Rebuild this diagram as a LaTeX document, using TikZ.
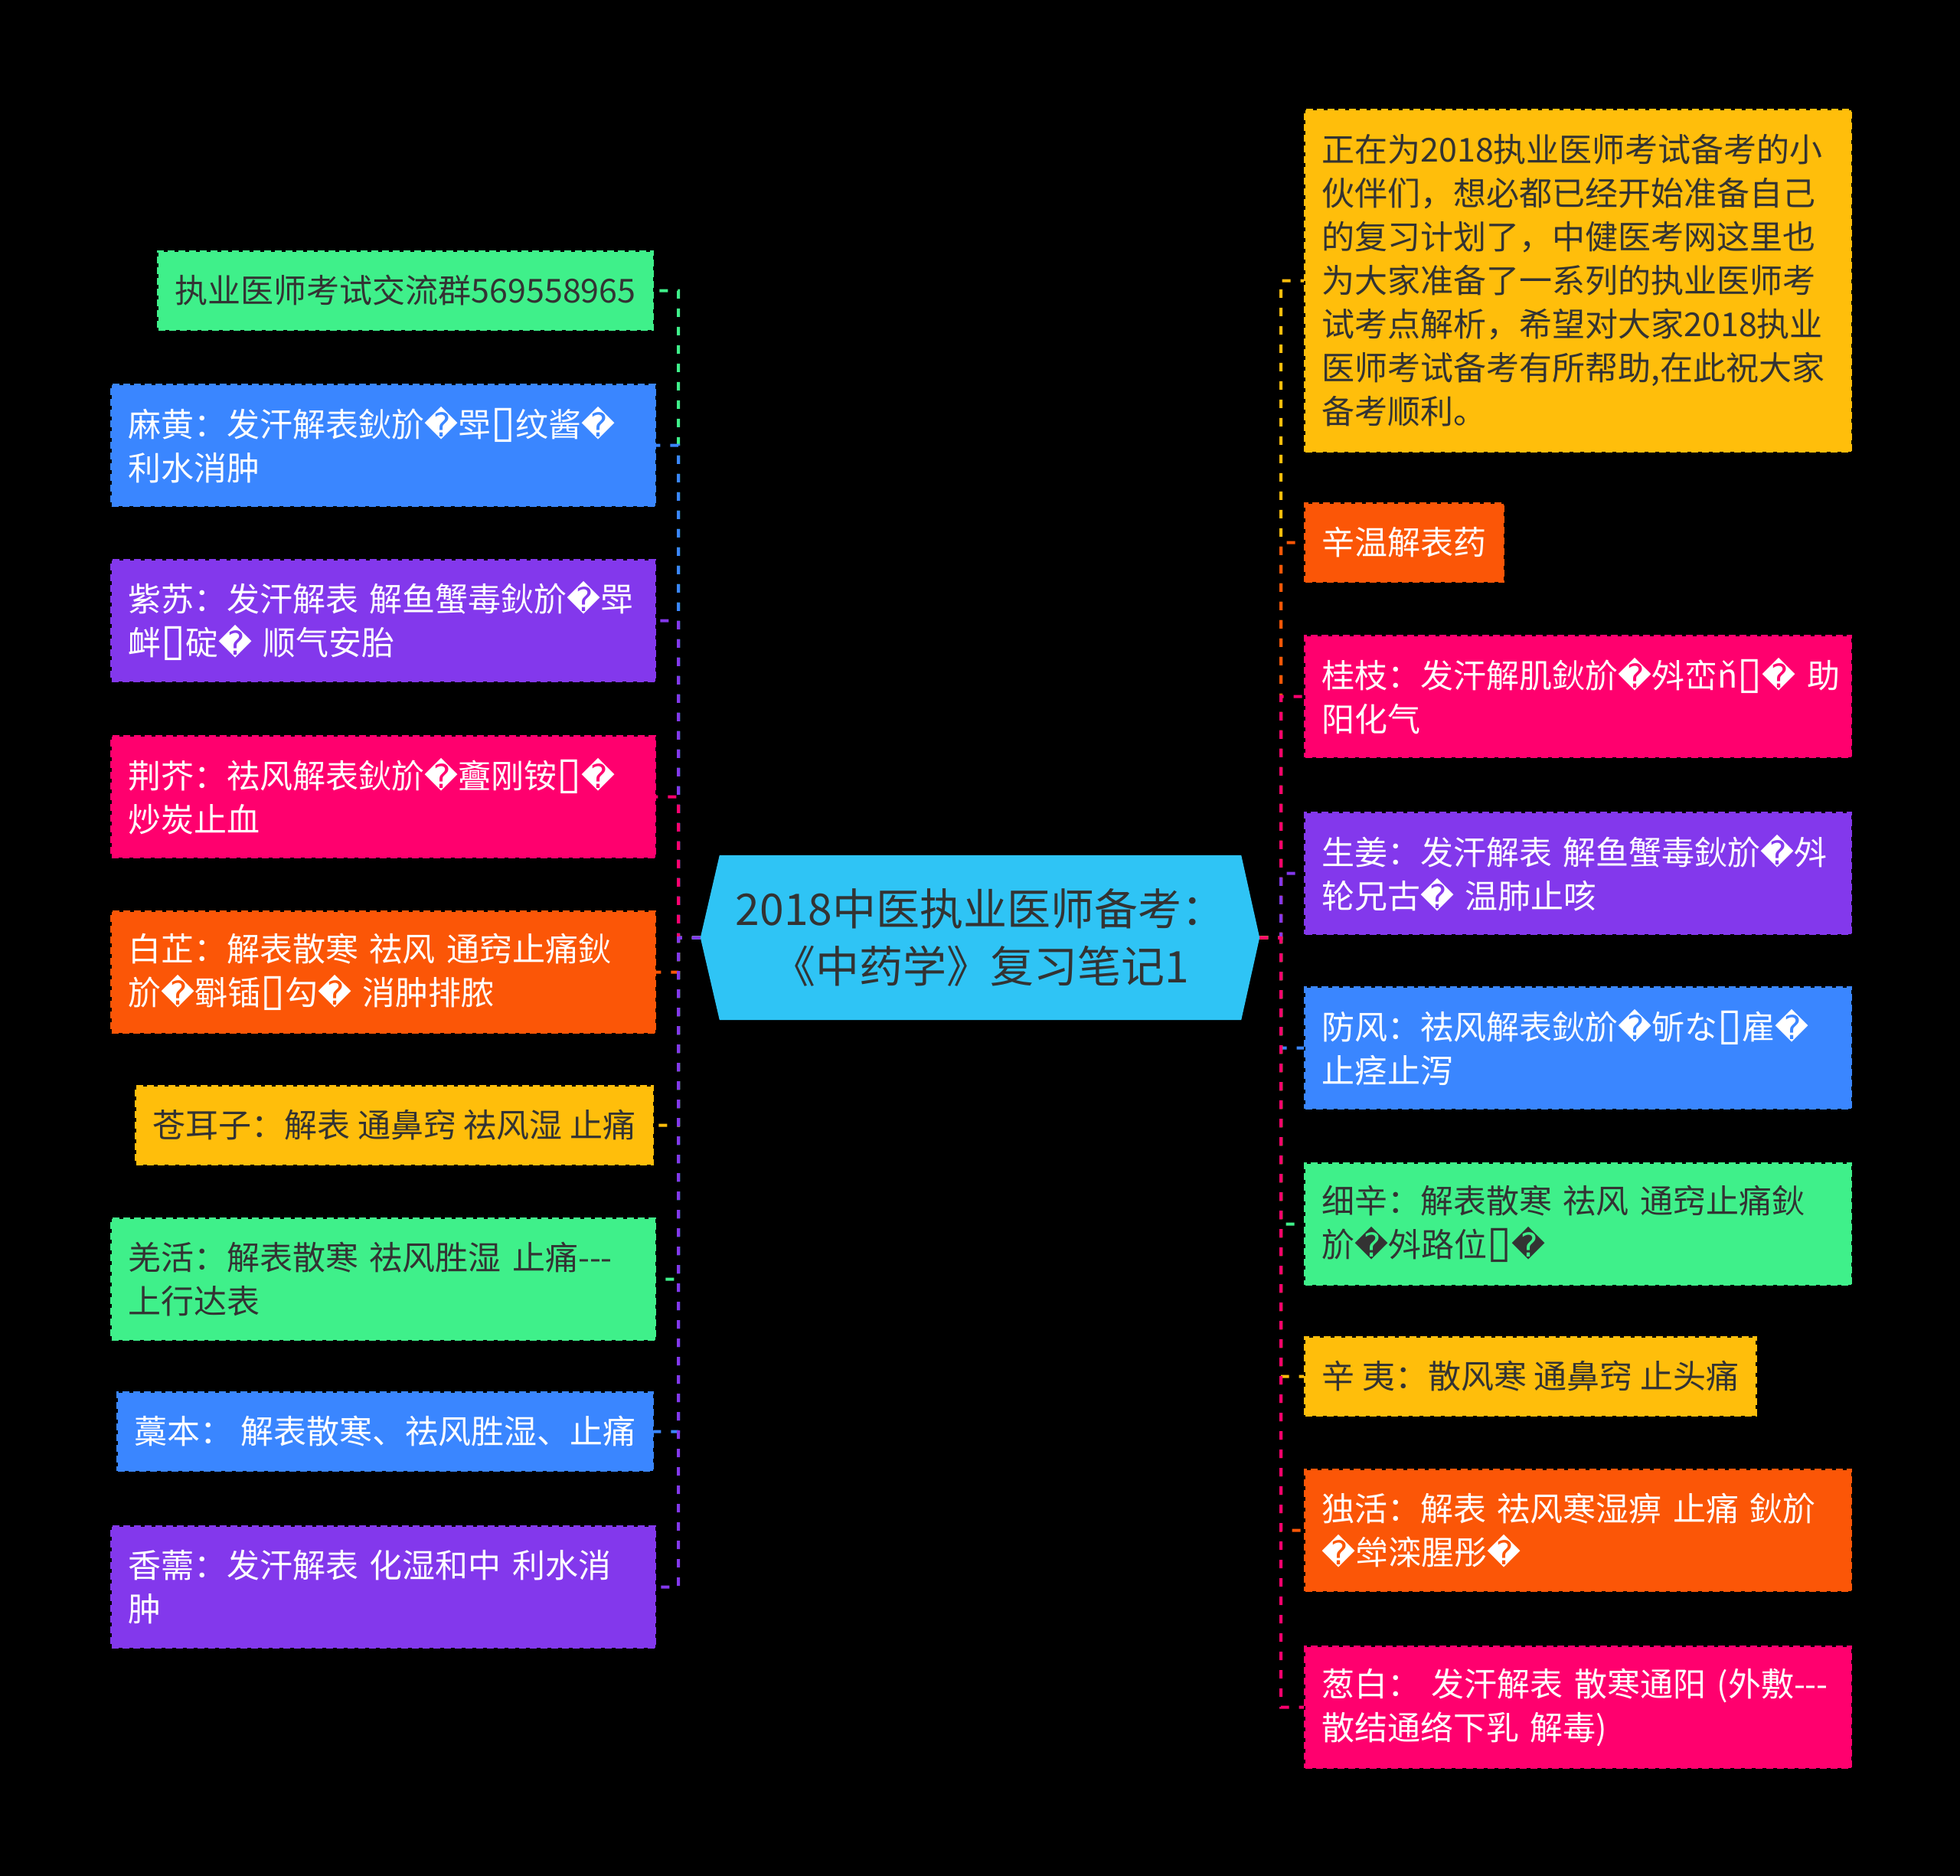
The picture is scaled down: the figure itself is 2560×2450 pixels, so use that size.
\documentclass[tikz,border=0pt]{standalone}
\usepackage{fontspec}
\setmainfont{Noto Sans CJK SC}
\newfontfamily\dejavu{DejaVu Sans}
\usetikzlibrary{backgrounds}
\definecolor{cgreen}{HTML}{3FF08A}
\definecolor{cblue}{HTML}{3A86FF}
\definecolor{cpurple}{HTML}{8338EC}
\definecolor{cpink}{HTML}{FF006E}
\definecolor{corange}{HTML}{FB5607}
\definecolor{cyellow}{HTML}{FFBE0B}
\definecolor{ccyan}{HTML}{2FC4F5}
\definecolor{cdark}{HTML}{333333}
\newcommand\qmk{{\dejavu\symbol{"FFFD}}}
\newcommand\tofu{{\dejavu\fontsize{58}{57}\selectfont\symbol{"25AF}}}
\newcommand\tridash{-{}-{}-}
\begin{document}
\begin{tikzpicture}[x=1pt,y=-1pt,
  leaf/.style={rectangle, fill=#1, draw=#1, line width=3pt, dash pattern=on 9pt off 5pt,
    inner xsep=22pt, inner ysep=0pt, font=\fontsize{43}{57}\selectfont, align=left},
  lt/.style={text=white},
  dk/.style={text=cdark},
  two/.style={minimum width=710pt, text width=666pt, minimum height=158pt},
  one/.style={minimum height=102pt},
  conn/.style={line width=4pt, dash pattern=on 11pt off 13pt},
  rootbox/.style={rectangle, minimum width=681pt, minimum height=215pt, inner sep=0pt,
    align=center, text=cdark, font=\fontsize{57}{75}\selectfont}]
\useasboundingbox (0,0) rectangle (2560,2450);
\begin{scope}[on background layer]
  \fill[black] (0,0) rectangle (2560,2450);
\end{scope}

% root
\node[rootbox] (root) at (1280.5,1224.5) {2018中医执业医师备考：\\《中药学》复习笔记1};
\begin{scope}[on background layer]
  \fill[ccyan] (root.north west) -- (root.north east) -- ([xshift=24pt]root.east)
    -- (root.south east) -- (root.south west) -- ([xshift=-25pt]root.west) -- cycle;
\end{scope}
\coordinate (rootL) at ([xshift=-25pt]root.west);
\coordinate (rootR) at ([xshift=24pt]root.east);
\coordinate (jl) at (886,1225);
\coordinate (jr) at (1673,1225);

% left children
\node[leaf=cgreen, dk, one, anchor=east] (L1) at (854,379.5) {执业医师考试交流群569558965};
\node[leaf=cblue, lt, two, anchor=north west] (L2) at (144,501) {麻黄：发汗解表鈥斺\qmk{}斝\tofu{}纹酱\qmk\\利水消肿};
\node[leaf=cpurple, lt, two, anchor=north west] (L3) at (144,730) {紫苏：发汗解表~解鱼蟹毒鈥斺\qmk{}斝\\衅\tofu{}碇\qmk{}~顺气安胎};
\node[leaf=cpink, lt, two, anchor=north west] (L4) at (144,960) {荆芥：祛风解表鈥斺\qmk{}斖刚铵\tofu{}\qmk\\炒炭止血};
\node[leaf=corange, lt, two, anchor=north west] (L5) at (144,1189) {白芷：解表散寒~祛风~通窍止痛鈥\\斺\qmk{}斣锸\tofu{}勾\qmk{}~消肿排脓};
\node[leaf=cyellow, dk, one, anchor=east] (L6) at (854,1469.5) {苍耳子：解表~通鼻窍~祛风湿~止痛};
\node[leaf=cgreen, dk, two, anchor=north west] (L7) at (144,1590) {羌活：解表散寒~祛风胜湿~止痛\tridash\\上行达表};
\node[leaf=cblue, lt, one, anchor=east] (L8) at (854,1869.5) {藁本：~解表散寒、祛风胜湿、止痛};
\node[leaf=cpurple, lt, two, anchor=north west] (L9) at (144,1992) {香薷：发汗解表~化湿和中~利水消\\肿};

% right children
\node[leaf=cyellow, dk, anchor=north west, minimum width=713pt, text width=669pt, minimum height=446pt] (R1) at (1703,142)
  {正在为2018执业医师考试备考的小\\伙伴们，想必都已经开始准备自己\\的复习计划了，中健医考网这里也\\为大家准备了一系列的执业医师考\\试考点解析，希望对大家2018执业\\医师考试备考有所帮助,在此祝大家\\备考顺利。};
\node[leaf=corange, lt, one, anchor=west] (R2) at (1703,708.5) {辛温解表药};
\node[leaf=cpink, lt, two, minimum width=713pt, text width=669pt, anchor=north west] (R3) at (1703,829) {桂枝：发汗解肌鈥斺\qmk{}斘峦ň\tofu{}\qmk{}~助\\阳化气};
\node[leaf=cpurple, lt, two, minimum width=713pt, text width=669pt, anchor=north west] (R4) at (1703,1060) {生姜：发汗解表~解鱼蟹毒鈥斺\qmk{}斘\\轮兄古\qmk{}~温肺止咳};
\node[leaf=cblue, lt, two, minimum width=713pt, text width=669pt, anchor=north west] (R5) at (1703,1288) {防风：祛风解表鈥斺\qmk{}斪な\tofu{}雇\qmk\\止痉止泻};
\node[leaf=cgreen, dk, two, minimum width=713pt, text width=669pt, anchor=north west] (R6) at (1703,1518) {细辛：解表散寒~祛风~通窍止痛鈥\\斺\qmk{}斘路位\tofu{}\qmk};
\node[leaf=cyellow, dk, one, anchor=west] (R7) at (1703,1797.5) {辛~夷：散风寒~通鼻窍~止头痛};
\node[leaf=corange, lt, two, minimum width=713pt, text width=669pt, anchor=north west] (R8) at (1703,1918) {独活：解表~祛风寒湿痹~止痛~鈥斺\\\qmk{}斚滦腥彤\qmk};
\node[leaf=cpink, lt, two, minimum width=713pt, text width=669pt, anchor=north west] (R9) at (1703,2149) {葱白：~发汗解表~散寒通阳~(外敷\tridash\\散结通络下乳~解毒)};

% connectors (drawn in order, later on top)
\draw[conn, cgreen]  (rootL) -- (jl) |- (L1.east);
\draw[conn, cblue]   (rootL) -- (jl) |- (L2.east);
\draw[conn, cpurple] (rootL) -- (jl) |- (L3.east);
\draw[conn, cpink]   (rootL) -- (jl) |- (L4.east);
\draw[conn, corange] (rootL) -- (jl) |- (L5.east);
\draw[conn, cyellow] (rootL) -- (jl) |- (L6.east);
\draw[conn, cgreen]  (rootL) -- (jl) |- (L7.east);
\draw[conn, cblue]   (rootL) -- (jl) |- (L8.east);
\draw[conn, cpurple] (rootL) -- (jl) |- (L9.east);

\draw[conn, cyellow] (rootR) -- (jr) |- (R1.west);
\draw[conn, corange] (rootR) -- (jr) |- (R2.west);
\draw[conn, cpink]   (rootR) -- (jr) |- (R3.west);
\draw[conn, cpurple] (rootR) -- (jr) |- (R4.west);
\draw[conn, cblue]   (rootR) -- (jr) |- (R5.west);
\draw[conn, cgreen]  (rootR) -- (jr) |- (R6.west);
\draw[conn, cyellow] (rootR) -- (jr) |- (R7.west);
\draw[conn, corange] (rootR) -- (jr) |- (R8.west);
\draw[conn, cpink]   (rootR) -- (jr) |- (R9.west);
\end{tikzpicture}
\end{document}
